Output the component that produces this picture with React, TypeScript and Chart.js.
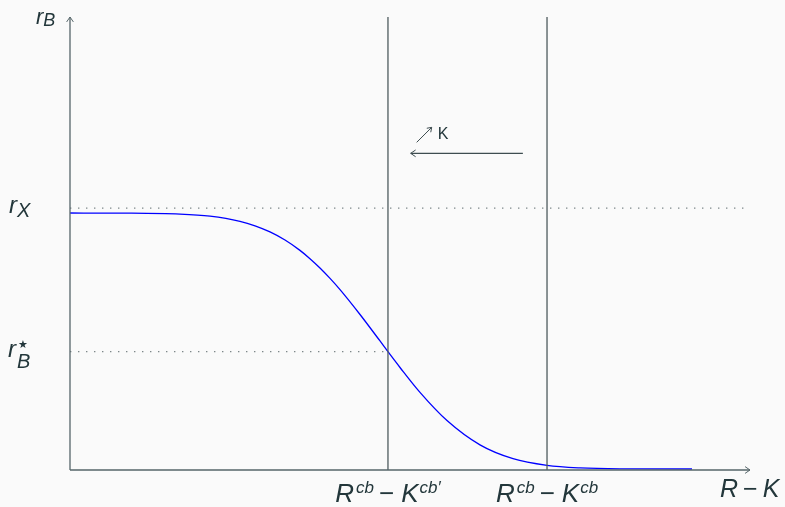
import { useEffect, useRef } from "react";
import { Chart, registerables } from "chart.js";

Chart.register(...registerables);

// ---- data (abstract units) ----
const curveX = [0, 0.882, 1.618, 2.059, 2.5, 2.721, 2.941, 3.162, 3.382, 3.529, 3.676, 3.824, 3.971, 4.265, 4.559, 4.676, 4.853, 5.147, 5.544, 6.029, 6.515, 7.015, 7.5, 8.088, 9.147];
const curveY = [5.673, 5.67, 5.649, 5.602, 5.489, 5.391, 5.256, 5.077, 4.848, 4.664, 4.459, 4.23, 3.982, 3.433, 2.848, 2.611, 2.263, 1.713, 1.091, 0.554, 0.249, 0.102, 0.046, 0.026, 0.022];
const verticalX = [4.676, 7.015];
const verticalLabels = ["R|cb|K|cb\u2032", "R|cb|K|cb"];
const rX = 5.78;
const rBStar = 2.611;
const shiftArrowFrom = 6.66;
const shiftArrowTo = 5.01;
const shiftArrowY = 6.99;
const xMax = 10;
const yMax = 10;

const TEXT = "#23373b";
const AXIS = "#56666a";
const FONT = "'Liberation Sans', Arial, sans-serif";

type Part = { t: string; size: number; dy?: number; italic?: boolean; gap?: number };

function drawParts(ctx: CanvasRenderingContext2D, parts: Part[], x: number, y: number, align: "left" | "center") {
  let total = 0;
  const widths: number[] = [];
  for (const p of parts) {
    ctx.font = `${p.italic === false ? "" : "italic "}${p.size}px ${FONT}`;
    const w = ctx.measureText(p.t).width;
    widths.push(w);
    total += w + (p.gap || 0);
  }
  let cx = align === "center" ? x - total / 2 : x;
  ctx.fillStyle = TEXT;
  ctx.textBaseline = "alphabetic";
  ctx.textAlign = "left";
  parts.forEach((p, i) => {
    ctx.font = `${p.italic === false ? "" : "italic "}${p.size}px ${FONT}`;
    ctx.fillText(p.t, cx, y + (p.dy || 0));
    cx += widths[i] + (p.gap || 0);
  });
}

function arrowHead(ctx: CanvasRenderingContext2D, x: number, y: number, angle: number, len = 6) {
  ctx.beginPath();
  ctx.moveTo(x - len * Math.cos(angle - 0.6), y - len * Math.sin(angle - 0.6));
  ctx.lineTo(x, y);
  ctx.lineTo(x - len * Math.cos(angle + 0.6), y - len * Math.sin(angle + 0.6));
  ctx.stroke();
}

const decorPlugin = {
  id: "decor",
  afterDatasetsDraw(chart: any) {
    const ctx: CanvasRenderingContext2D = chart.ctx;
    const xs = chart.scales.x;
    const ys = chart.scales.y;
    const x0 = xs.getPixelForValue(0);
    const x1 = xs.getPixelForValue(xMax);
    const y0 = ys.getPixelForValue(0);
    const y1 = ys.getPixelForValue(yMax);
    ctx.save();
    ctx.strokeStyle = AXIS;
    ctx.lineWidth = 1.3;
    // axes
    ctx.beginPath();
    ctx.moveTo(x0, y0);
    ctx.lineTo(x1, y0);
    ctx.moveTo(x0, y0);
    ctx.lineTo(x0, y1);
    ctx.stroke();
    ctx.lineWidth = 1;
    arrowHead(ctx, x1, y0, 0);
    arrowHead(ctx, x0, y1, -Math.PI / 2);
    // shift arrow head
    const ax = xs.getPixelForValue(shiftArrowTo);
    const ay = ys.getPixelForValue(shiftArrowY);
    ctx.strokeStyle = "#3e4d50";
    arrowHead(ctx, ax, ay, Math.PI);
    // small diagonal arrow
    ctx.beginPath();
    ctx.moveTo(ax + 6, ay - 11);
    ctx.lineTo(ax + 21, ay - 26);
    ctx.stroke();
    arrowHead(ctx, ax + 21, ay - 26, -Math.PI / 4, 5);
    drawParts(ctx, [{ t: "K", size: 16, italic: false }], ax + 27, ay - 14, "left");

    // y labels
    const yrx = ys.getPixelForValue(rX);
    drawParts(ctx, [{ t: "r", size: 24, gap: 0 }, { t: "X", size: 20, dy: 4 }], 9, yrx + 5, "left");
    const yrb = ys.getPixelForValue(rBStar);
    drawParts(ctx, [{ t: "r", size: 24 }], 8, yrb + 5, "left");
    drawParts(ctx, [{ t: "B", size: 20 }], 17, yrb + 16, "left");
    drawParts(ctx, [{ t: "\u2605", size: 11, italic: false }], 18, yrb - 4, "left");
    drawParts(ctx, [{ t: "r", size: 22, gap: 0 }, { t: "B", size: 18, dy: 2 }], 36, 24, "left");

    // x labels
    verticalX.forEach((v, i) => {
      const [a, b, c, d] = verticalLabels[i].split("|");
      drawParts(
        ctx,
        [
          { t: a, size: 26, gap: 2 },
          { t: b, size: 17, dy: -9, gap: 5 },
          { t: "\u2212", size: 26, italic: false, gap: 7 },
          { t: c, size: 26, gap: 1 },
          { t: d, size: 17, dy: -9 },
        ],
        xs.getPixelForValue(v),
        502,
        "center"
      );
    });
    drawParts(
      ctx,
      [
        { t: "R", size: 25, gap: 5 },
        { t: "\u2212", size: 25, italic: false, gap: 5 },
        { t: "K", size: 25 },
      ],
      720,
      497,
      "left"
    );
    ctx.restore();
  },
};

export default function App() {
  const ref = useRef<HTMLCanvasElement>(null);
  useEffect(() => {
    if (!ref.current) return;
    const vDatasets = verticalX.map((v) => ({
      data: [
        { x: v, y: 0 },
        { x: v, y: yMax },
      ],
      borderColor: "#4e5b5e",
      borderWidth: 1.3,
      pointRadius: 0,
    }));
    const dotted = {
      borderColor: "#7d8789",
      borderWidth: 1.2,
      borderDash: [1.4, 6.6],
      pointRadius: 0,
    };
    const chart = new Chart(ref.current, {
      type: "line",
      data: {
        datasets: [
          {
            ...dotted,
            data: [
              { x: 0, y: rX },
              { x: xMax, y: rX },
            ],
          },
          {
            ...dotted,
            data: [
              { x: 0, y: rBStar },
              { x: verticalX[0], y: rBStar },
            ],
          },
          ...vDatasets,
          {
            data: [
              { x: shiftArrowFrom, y: shiftArrowY },
              { x: shiftArrowTo, y: shiftArrowY },
            ],
            borderColor: "#3e4d50",
            borderWidth: 1.3,
            pointRadius: 0,
          },
          {
            data: curveX.map((x, i) => ({ x, y: curveY[i] })),
            borderColor: "#0000ff",
            borderWidth: 1.3,
            pointRadius: 0,
            cubicInterpolationMode: "monotone",
          },
        ],
      },
      options: {
        responsive: false,
        animation: false,
        devicePixelRatio: 1,
        layout: { padding: { left: 70, right: 35, top: 17, bottom: 37 } },
        plugins: { legend: { display: false }, tooltip: { enabled: false } },
        scales: {
          x: { type: "linear", min: 0, max: xMax, display: false },
          y: { type: "linear", min: 0, max: yMax, display: false },
        },
      },
      plugins: [decorPlugin],
    } as any);
    return () => chart.destroy();
  }, []);
  return (
    <div style={{ position: "fixed", left: 0, top: 0, width: 785, height: 507, background: "#fafafa" }}>
      <canvas ref={ref} width={785} height={507} style={{ display: "block" }} />
    </div>
  );
}
